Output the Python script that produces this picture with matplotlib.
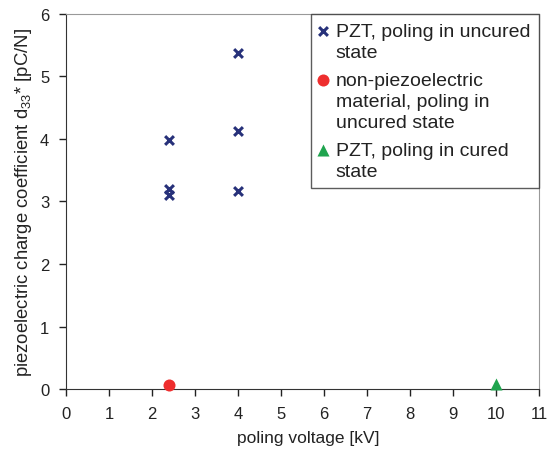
import matplotlib
matplotlib.use("Agg")
import matplotlib.pyplot as plt

plt.rcParams['font.family'] = ['Liberation Sans', 'DejaVu Sans']
plt.rcParams['mathtext.fontset'] = 'custom'
plt.rcParams['mathtext.rm'] = 'Liberation Sans'
plt.rcParams['mathtext.default'] = 'regular'

# PZT, poled while uncured
pzt_uncured_kv = [2.4, 2.4, 2.4, 4.0, 4.0, 4.0]
pzt_uncured_d33 = [3.98, 3.2, 3.1, 5.38, 4.13, 3.16]

# non-piezoelectric reference material, poled while uncured
nonpiezo_kv = [2.4]
nonpiezo_d33 = [0.07]

# PZT, poled after curing
pzt_cured_kv = [10.0]
pzt_cured_d33 = [0.08]

x_ticks = list(range(0, 12))
y_ticks = list(range(0, 7))


def main():
    fig = plt.figure(figsize=(5.49, 4.52), dpi=100)
    ax = fig.add_axes([0.120, 0.137, 0.862, 0.830])

    ax.scatter(pzt_uncured_kv, pzt_uncured_d33, marker='x', s=40, linewidths=2.2,
               color='#27317a', label='PZT, poling in uncured\nstate', zorder=3)
    ax.scatter(nonpiezo_kv, nonpiezo_d33, marker='o', s=75, color='#ee2e2e',
               linewidths=0, label='non-piezoelectric\nmaterial, poling in\nuncured state',
               zorder=3, clip_on=False)
    ax.scatter(pzt_cured_kv, pzt_cured_d33, marker='^', s=75, color='#1fa44e',
               linewidths=0, label='PZT, poling in cured\nstate', zorder=3, clip_on=False)

    ax.set_xlim(0, 11)
    ax.set_ylim(0, 6)
    ax.set_xticks(x_ticks)
    ax.set_yticks(y_ticks)
    ax.tick_params(direction='out', length=5, width=1, labelsize=12, colors='#222222', pad=7)

    ax.spines['left'].set_color('#333333')
    ax.spines['bottom'].set_color('#333333')
    ax.spines['top'].set_color('#999999')
    ax.spines['right'].set_color('#999999')

    ax.set_xlabel('poling voltage [kV]', fontsize=12.5, color='#222222', labelpad=7)
    ax.xaxis.label.set_x(0.512)
    ax.set_ylabel('piezoelectric charge coefficient d$_{33}$* [pC/N]', fontsize=13.3,
                  color='#222222', labelpad=4)

    leg = ax.legend(loc='upper right', fontsize=14, frameon=True, fancybox=False,
                    handletextpad=0.5, handlelength=0.33, borderaxespad=0.0,
                    labelspacing=0.55, borderpad=0.45, scatterpoints=1)
    leg.get_frame().set_edgecolor('#333333')
    leg.get_frame().set_linewidth(1.0)
    for t in leg.get_texts():
        t.set_linespacing(1.32)
        t.set_color('#222222')
    # put each marker beside the first line of its label
    for col in leg._legend_handle_box.get_children():
        for item in col.get_children():
            item.align = 'top'

    fig.savefig('out.png', dpi=100)


if __name__ == '__main__':
    main()
